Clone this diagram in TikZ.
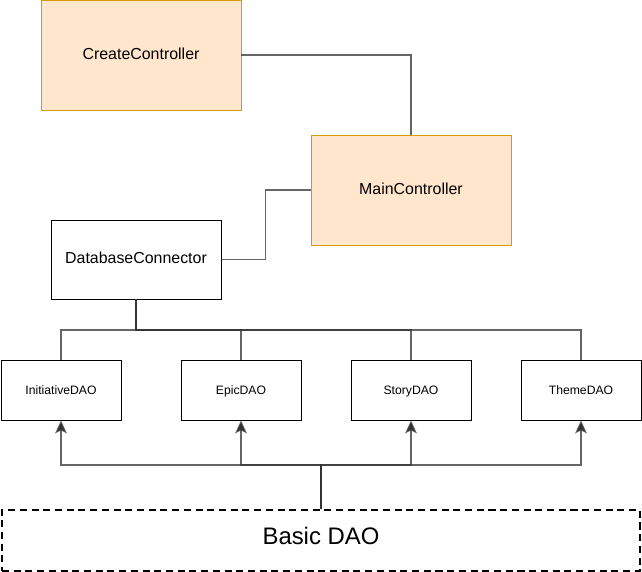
\documentclass[tikz,border=0pt]{standalone}
\usepackage{fontspec}
\setmainfont{Liberation Sans}
\usepackage{xcolor}
\usetikzlibrary{arrows.meta}
\definecolor{ctrlfill}{HTML}{FFE6CC}
\definecolor{ctrldraw}{HTML}{D79B00}
\definecolor{wirecol}{HTML}{333333}

\begin{document}
\begin{tikzpicture}[x=0.03cm,y=-0.03cm]
        \tikzstyle{every node}+=[text height=0.72em,text depth=0pt]
        \tikzstyle{ctrl}=[draw=ctrldraw,fill=ctrlfill,line width=0.8pt,minimum width=6cm,minimum height=3.3cm,font=\fontsize{13.6}{16}\selectfont]
        \tikzstyle{conn}=[draw=black,line width=0.8pt,minimum width=5.1cm,minimum height=2.37cm,font=\fontsize{13.6}{16}\selectfont]
        \tikzstyle{dao}=[draw=black,line width=0.8pt,minimum width=3.6cm,minimum height=1.8cm,font=\fontsize{10.4}{12}\selectfont]
        \tikzstyle{wire}=[draw=wirecol,draw opacity=0.75,line width=1.4pt]
        \tikzstyle{up}=[-{Stealth[length=11pt,width=10pt,inset=2.5pt]}]
        \useasboundingbox (0,0) rectangle (642,572);
        % controllers
        \node [ctrl] (create) at (141,55) {CreateController};
        \node [ctrl] (main) at (411,190) {MainController};
        \node [conn] (dbc) at (136,259.5) {DatabaseConnector};
        % DAOs
        \node [dao] (ini) at (61,390) {InitiativeDAO};
        \node [dao] (epic) at (241,390) {EpicDAO};
        \node [dao] (story) at (411,390) {StoryDAO};
        \node [dao] (theme) at (581,390) {ThemeDAO};
        \node [draw=black,line width=1pt,dash pattern=on 6pt off 4pt,minimum width=19.14cm,minimum height=1.83cm,font=\fontsize{20.4}{24}\selectfont] (basic) at (321,540.5) {Basic DAO};
        \coordinate (topbus) at (136,330);
        \coordinate (lowbus) at (321,465);
        % wiring
        \draw [wire] (create.east) -| (main.north);
        \draw [wire] (main.west) -- ++(-45,0) |- (dbc.east);
        \draw [wire] (dbc.south) -- (topbus) -| (ini.north);
        \draw [wire] (dbc.south) -- (topbus) -| (epic.north);
        \draw [wire] (dbc.south) -- (topbus) -| (story.north);
        \draw [wire] (dbc.south) -- (topbus) -| (theme.north);
        \draw [wire,up] (basic.north) -- (lowbus) -| (ini.south);
        \draw [wire,up] (basic.north) -- (lowbus) -| (epic.south);
        \draw [wire,up] (basic.north) -- (lowbus) -| (story.south);
        \draw [wire,up] (basic.north) -- (lowbus) -| (theme.south);
\end{tikzpicture}
\end{document}
